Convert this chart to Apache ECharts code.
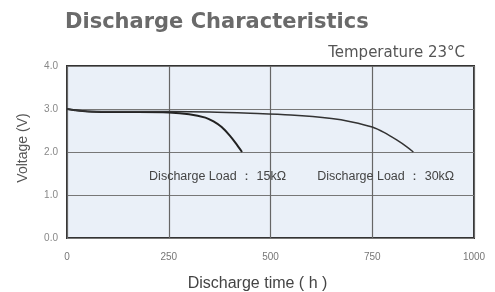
<!DOCTYPE html>
<html><head><meta charset="utf-8">
<script src="https://cdn.jsdelivr.net/npm/echarts@6/dist/echarts.min.js"></script>
<style>html,body{margin:0;padding:0;background:#fff;}#c{width:495px;height:292px;}</style>
</head><body><div id="c"></div>
<script>
const xTicks = [0, 250, 500, 750, 1000];
const yTicks = [0.0, 1.0, 2.0, 3.0, 4.0];
const load15k = [[0,3.0],[20,2.97],[50,2.94],[100,2.93],[175,2.93],[250,2.92],[300,2.88],[340,2.80],[360,2.71],[380,2.58],[400,2.38],[415,2.20],[430,2.0]];
const load30k = [[0,3.0],[20,2.97],[50,2.95],[150,2.94],[250,2.94],[350,2.93],[450,2.90],[550,2.86],[650,2.78],[700,2.70],[750,2.58],[780,2.45],[810,2.28],[835,2.12],[851,2.0]];
const labels = ["Discharge Load ： 15kΩ", "Discharge Load ： 30kΩ"];
const labelPos = [[370,1.42],[783,1.42]];
const chart = echarts.init(document.getElementById('c'));
const annot = (i)=>({symbol:'rect', symbolSize:[1,1], itemStyle:{color:'rgba(0,0,0,0)'},
  label:{show:true, position:'inside', formatter:labels[i], fontFamily:'Liberation Sans', fontSize:12.5, color:'#444'},
  data:[{coord:labelPos[i]}]});
chart.setOption({
  animation:false,
  title:[
    {text:'Discharge Characteristics', left:60, top:7, textStyle:{fontFamily:'DejaVu Sans', fontSize:21, fontWeight:'bold', color:'#6a6a6a'}},
    {text:'Temperature 23°C', right:25, top:41, textStyle:{fontFamily:'DejaVu Sans', fontSize:15, fontWeight:'normal', color:'#555'}}
  ],
  grid:{left:67, right:21, top:66, bottom:54, show:true, backgroundColor:'#eaf0f8', borderColor:'#333', borderWidth:2, outerBoundsMode:'none', containLabel:false},
  xAxis:{type:'value', min:0, max:1000, interval:250,
    name:'Discharge time ( h )', nameLocation:'middle', nameGap:38,
    nameTextStyle:{fontFamily:'Liberation Sans', fontSize:16, color:'#444', padding:[0,26,0,0]},
    axisLine:{show:false}, axisTick:{show:false},
    axisLabel:{fontFamily:'Liberation Sans', fontSize:10, color:'#777', margin:14, formatter:v=>String(v)},
    splitLine:{show:true, lineStyle:{color:'#666', width:1.2}}},
  yAxis:{type:'value', min:0, max:4, interval:1,
    name:'Voltage (V)', nameLocation:'middle', nameGap:37,
    nameTextStyle:{fontFamily:'Liberation Sans', fontSize:14, color:'#555', padding:[0,0,0,8]},
    axisLine:{show:false}, axisTick:{show:false},
    axisLabel:{fontFamily:'Liberation Sans', fontSize:10, color:'#888', margin:9, formatter:v=>v.toFixed(1)},
    splitLine:{show:true, lineStyle:{color:'#777', width:1.2}}},
  series:[
    {type:'line', data:load15k, smooth:0.3, symbol:'none', lineStyle:{color:'#222', width:2}, markPoint:annot(0)},
    {type:'line', data:load30k, smooth:0.3, symbol:'none', lineStyle:{color:'#333', width:1.5}, markPoint:annot(1)}
  ]
});
</script></body></html>
